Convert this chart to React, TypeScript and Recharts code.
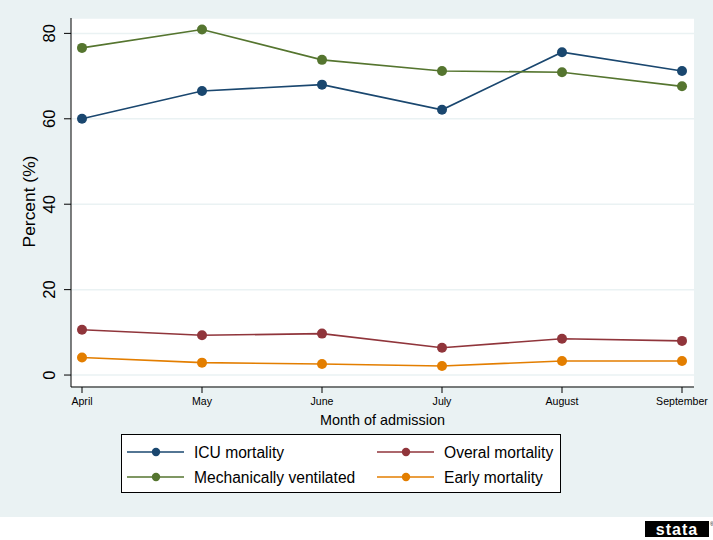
import React from 'react';
import { LineChart, Line, XAxis, YAxis, CartesianGrid, Legend } from 'recharts';

const months = ['April', 'May', 'June', 'July', 'August', 'September'];
const icuMortality = [60.0, 66.5, 68.0, 62.1, 75.6, 71.2];
const mechVentilated = [76.6, 80.9, 73.8, 71.2, 70.9, 67.6];
const overalMortality = [10.6, 9.3, 9.7, 6.4, 8.5, 8.0];
const earlyMortality = [4.1, 2.9, 2.6, 2.1, 3.3, 3.3];
const yTicks = [0, 20, 40, 60, 80];

const seriesKeys = ['icu', 'mech', 'overal', 'early'];
const seriesNames = ['ICU mortality', 'Mechanically ventilated', 'Overal mortality', 'Early mortality'];
const seriesColors = ['#1a476f', '#55752f', '#90353b', '#e37e00'];
// legend slots: [column, row]
const legendSlots = [[0, 0], [0, 1], [1, 0], [1, 1]];

const data = months.map((m, i) => ({
  month: m,
  icu: icuMortality[i],
  mech: mechVentilated[i],
  overal: overalMortality[i],
  early: earlyMortality[i],
}));

const FONT = '"Liberation Sans", Arial, Helvetica, sans-serif';

const YTick = (props: any) => {
  const { x, y, payload } = props;
  return (
    <text
      transform={`translate(${x - 7},${y}) rotate(-90)`}
      textAnchor="middle"
      fontFamily={FONT}
      fontSize={16.5}
      fill="#000"
    >
      {payload.value}
    </text>
  );
};

const XTick = (props: any) => {
  const { x, y, payload } = props;
  return (
    <text x={x} y={y + 9.7} textAnchor="middle" fontFamily={FONT} fontSize={10.6} fill="#000">
      {payload.value}
    </text>
  );
};

const XTitle = (props: any) => {
  const { viewBox } = props;
  return (
    <text
      x={viewBox.x + viewBox.width / 2}
      y={viewBox.y + 38}
      textAnchor="middle"
      fontFamily={FONT}
      fontSize={14.4}
      fill="#000"
    >
      Month of admission
    </text>
  );
};

const YTitle = (props: any) => {
  const { viewBox } = props;
  return (
    <text
      transform={`translate(34.5,${viewBox.y + viewBox.height / 2 - 1}) rotate(-90)`}
      textAnchor="middle"
      fontFamily={FONT}
      fontSize={17.4}
      fill="#000"
    >
      Percent (%)
    </text>
  );
};

const LegendBox = () => {
  const w = 440;
  const h = 59;
  return (
    <svg width={w} height={h} style={{ display: 'block' }}>
      <rect x={0.5} y={0.5} width={w - 1} height={h - 1} fill="#fff" stroke="#000" strokeWidth={1} />
      {seriesNames.map((name, i) => {
        const [col, row] = legendSlots[i];
        const x0 = 6 + col * 250;
        const cy = 18 + row * 25;
        return (
          <g key={name}>
            <line x1={x0} y1={cy} x2={x0 + 57} y2={cy} stroke={seriesColors[i]} strokeWidth={1.6} />
            <circle cx={x0 + 29} cy={cy} r={4.2} fill={seriesColors[i]} />
            <text x={x0 + 67} y={cy} dy="0.36em" fontFamily={FONT} fontSize={15.6} fill="#000">
              {name}
            </text>
          </g>
        );
      })}
    </svg>
  );
};

export default function App() {
  return (
    <div style={{ position: 'absolute', left: 0, top: 0, width: 713, height: 540, background: '#fff' }}>
      <div style={{ position: 'absolute', left: 0, top: 0, width: 713, height: 517, background: '#eaf2f3' }}>
        <LineChart
          width={713}
          height={517}
          data={data}
          margin={{ top: 18, right: 19, bottom: 0, left: 0 }}
        >
          <CartesianGrid vertical={false} fill="#ffffff" stroke="#eaf2f3" strokeWidth={1.5} />
          <XAxis
            dataKey="month"
            height={130}
            padding={{ left: 11, right: 12 }}
            axisLine={{ stroke: '#000', strokeWidth: 1 }}
            tickLine={{ stroke: '#000', strokeWidth: 1 }}
            tickSize={6}
            tickMargin={2}
            tick={<XTick />}
            interval={0}
            label={<XTitle />}
          />
          <YAxis
            width={71}
            domain={[-2.8, 83.6]}
            ticks={yTicks}
            allowDataOverflow
            axisLine={{ stroke: '#000', strokeWidth: 1 }}
            tickLine={{ stroke: '#000', strokeWidth: 1 }}
            tickSize={7}
            tickMargin={2}
            tick={<YTick />}
            label={<YTitle />}
          />
          {seriesKeys.map((k, i) => (
            <Line
              key={k}
              type="linear"
              dataKey={k}
              name={seriesNames[i]}
              stroke={seriesColors[i]}
              strokeWidth={1.6}
              dot={{ r: 5, fill: seriesColors[i], stroke: seriesColors[i], strokeWidth: 0 }}
              activeDot={false}
              isAnimationActive={false}
            />
          ))}
          <Legend
            layout="horizontal"
            verticalAlign="middle"
            align="center"
            content={<LegendBox />}
            wrapperStyle={{ position: 'absolute', left: 121, top: 434, width: 440, height: 59, bottom: 'auto', right: 'auto' }}
          />
        </LineChart>
      </div>
      <div style={{ position: 'absolute', left: 644, top: 520 }}>
        <svg width={69} height={18}>
          <rect x={1} y={1} width={64} height={16} fill="#000" />
          <text
            x={33}
            y={9}
            dy="0.36em"
            textAnchor="middle"
            fontFamily={FONT}
            fontWeight="bold"
            fontSize={16}
            letterSpacing={1}
            fill="#fff"
          >
            stata
          </text>
          <text x={66} y={6} fontFamily={FONT} fontSize={5} fill="#000">®</text>
        </svg>
      </div>
    </div>
  );
}
